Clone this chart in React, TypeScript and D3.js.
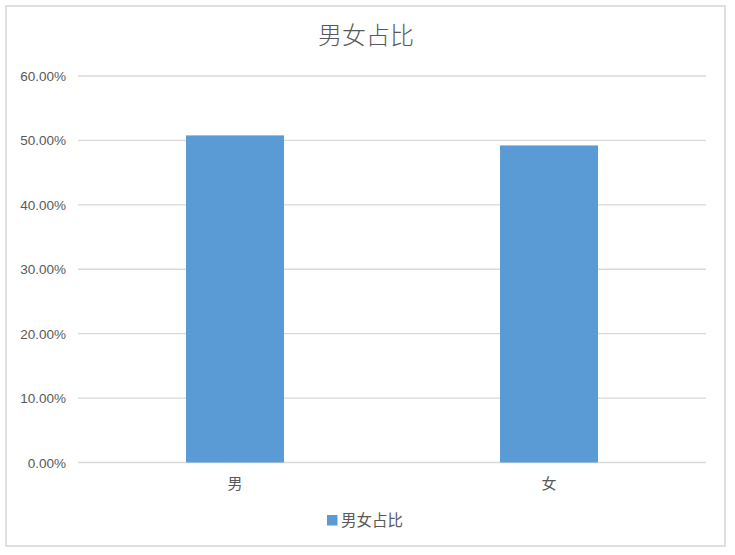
import React from 'react'
import * as d3 from 'd3'

// chart data
const categories = ['男', '女']
const shares = [0.5078, 0.4922]
const yTicks = [0, 0.1, 0.2, 0.3, 0.4, 0.5, 0.6]
const chartTitle = '男女占比'
const seriesName = '男女占比'

const width = 735
const height = 555
const plot = { left: 78, right: 706, top: 76, bottom: 462.5 }
const barColor = '#5b9bd5'
const textColor = '#595959'
const gridColor = '#d9d9d9'
const cjkFont = '"Noto Sans CJK SC", "Noto Sans", sans-serif'
const numFont = '"Liberation Sans", Arial, sans-serif'

const App: React.FC = () => {
    const x = d3
        .scaleBand<string>()
        .domain(categories)
        .range([plot.left, plot.right])
        .padding(0)

    const y = d3
        .scaleLinear()
        .domain([0, 0.6])
        .range([plot.bottom, plot.top])

    const barWidth = x.bandwidth() * 0.312
    const pct = d3.format('.2%')

    return (
        <svg
            width={width}
            height={height}
            style={{ display: 'block', position: 'absolute', left: 0, top: 0 }}
        >
            <rect x={0} y={0} width={width} height={height} fill="#fff" />
            {/* outer chart border */}
            <rect
                x={6}
                y={6}
                width={719}
                height={540}
                fill="#fff"
                stroke={gridColor}
                strokeWidth={1.6}
            />

            <text
                x={366}
                y={44}
                textAnchor="middle"
                fontFamily={cjkFont}
                fontWeight={300}
                fontSize={24}
                fill={textColor}
            >
                {chartTitle}
            </text>

            {/* gridlines + y labels */}
            {yTicks.map((t) => (
                <g key={t}>
                    <line
                        x1={plot.left}
                        x2={plot.right}
                        y1={y(t)}
                        y2={y(t)}
                        stroke={gridColor}
                        strokeWidth={1.3}
                    />
                    <text
                        x={66}
                        y={y(t) + 5}
                        textAnchor="end"
                        fontFamily={numFont}
                        fontSize={13.5}
                        fill={textColor}
                    >
                        {pct(t)}
                    </text>
                </g>
            ))}

            {/* bars */}
            {categories.map((c, i) => (
                <rect
                    key={c}
                    x={(x(c) as number) + x.bandwidth() / 2 - barWidth / 2}
                    y={y(shares[i])}
                    width={barWidth}
                    height={y(0) - y(shares[i])}
                    fill={barColor}
                />
            ))}

            {/* category labels */}
            {categories.map((c) => (
                <text
                    key={c}
                    x={(x(c) as number) + x.bandwidth() / 2}
                    y={489}
                    textAnchor="middle"
                    fontFamily={cjkFont}
                    fontSize={15}
                    fill={textColor}
                >
                    {c}
                </text>
            ))}

            {/* legend */}
            <rect x={327} y={515} width={10.5} height={10.5} fill={barColor} />
            <text
                x={341}
                y={526}
                fontFamily={cjkFont}
                fontSize={15.5}
                fill={textColor}
            >
                {seriesName}
            </text>
        </svg>
    )
}

export default App
